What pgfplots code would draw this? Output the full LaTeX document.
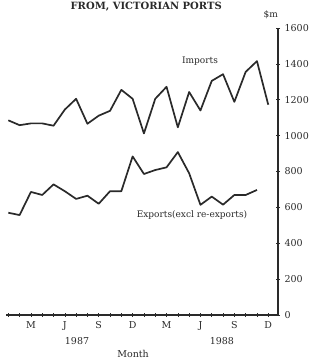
\documentclass[border=0pt]{standalone}
\usepackage{fontspec}
\setmainfont{DejaVu Serif}
\usepackage{pgfplots}
\pgfplotsset{compat=1.18}
\definecolor{ink}{HTML}{2A2A2A}
\begin{document}
\begin{tikzpicture}[x=1pt,y=1pt]
\begin{axis}[
  scale only axis, width=272pt, height=287pt,
  xmin=0.8, xmax=24.87, ymin=0, ymax=1600,
  axis x line=bottom, axis y line=right,
  axis line style={-, line width=1.5pt, ink},
  xtick={1,...,24},
  xticklabels={,,M,,,J,,,S,,,D,,,M,,,J,,,S,,,D},
  ytick={0,200,...,1600},
  yticklabel pos=right,
  tick align=center, major tick length=4pt,
  tick style={ink, line width=0.6pt},
  /pgf/number format/assume math mode=true,
  /pgf/number format/1000 sep={},
  ticklabel style={font=\fontsize{9.5}{11}\selectfont, text=ink},
  xticklabel style={yshift=-1pt},
  yticklabel style={xshift=1pt},
  clip=false,
]
\addplot[ink, line width=1.7pt, line join=round] coordinates {
(1,1085) (2,1058) (3,1068) (4,1068) (5,1055) (6,1145) (7,1205) (8,1066)
(9,1111) (10,1138) (11,1255) (12,1205) (13,1012) (14,1205) (15,1272) (16,1046)
(17,1243) (18,1140) (19,1305) (20,1342) (21,1188) (22,1355) (23,1415) (24,1172)};
\addplot[ink, line width=1.7pt, line join=round] coordinates {
(1,570) (2,557) (3,686) (4,669) (5,728) (6,690) (7,647) (8,665)
(9,620) (10,690) (11,690) (12,884) (13,786) (14,808) (15,823) (16,908)
(17,790) (18,614) (19,660) (20,615) (21,669) (22,669) (23,697)};
\node[font=\fontsize{9}{11}\selectfont, text=ink] at (axis cs:17.96,1416) {Imports};
\node[font=\fontsize{9}{11}\selectfont, text=ink] at (axis cs:17.25,557) {Exports(excl re-exports)};
\node[font=\fontsize{9}{11}\selectfont, text=ink] at (axis cs:24.22,1672) {\$m};
\node[font=\fontsize{9.5}{11}\selectfont, text=ink] at (axis cs:7.08,-145) {1987};
\node[font=\fontsize{9.5}{11}\selectfont, text=ink] at (axis cs:19.9,-145) {1988};
\node[font=\fontsize{9.5}{11}\selectfont, text=ink] at (axis cs:12.04,-217) {Month};
\node[font=\bfseries\fontsize{10}{12}\selectfont, text=ink, anchor=base] at (axis cs:13.2,1703) {FROM, VICTORIAN PORTS};
\coordinate (bl) at (axis cs:0.265,-262);
\coordinate (tr) at (axis cs:27.876,1755.8);
\end{axis}
\pgfresetboundingbox
\useasboundingbox (bl) rectangle (tr);
\end{tikzpicture}
\end{document}
